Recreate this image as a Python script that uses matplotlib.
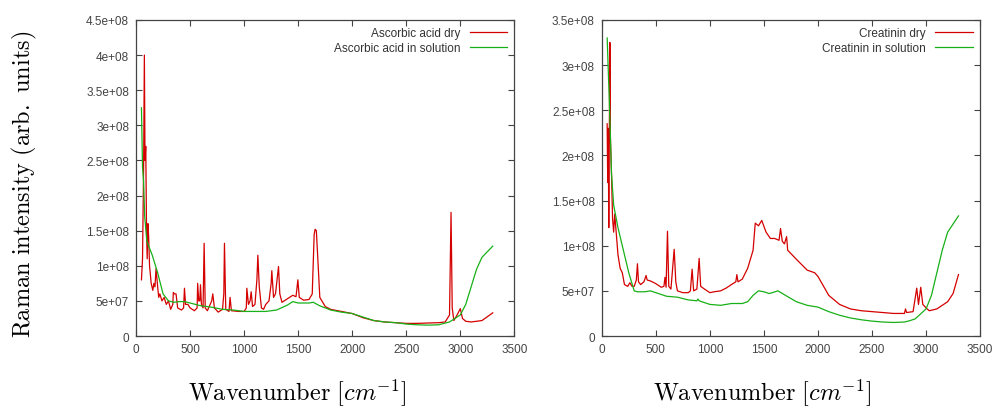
import matplotlib
matplotlib.use("Agg")
import matplotlib.pyplot as plt
from matplotlib.ticker import FuncFormatter

# Ascorbic acid, dry (red)
asc_dry_x = [50, 60, 70, 77, 83, 90, 97, 103, 110, 117, 125, 140, 155, 165, 175, 185, 200,
             210, 220, 240, 260, 280, 300, 320, 340, 345, 355, 370, 385, 420, 440, 448, 458,
             480, 500, 540, 565, 570, 580, 590, 596, 605, 620, 630, 640, 660, 700, 710, 725,
             760, 800, 812, 818, 830, 860, 870, 882, 950, 1000, 1020, 1025, 1040, 1055, 1065,
             1078, 1100, 1118, 1127, 1140, 1160, 1180, 1200, 1230, 1250, 1256, 1272, 1290,
             1318, 1330, 1350, 1400, 1450, 1480, 1497, 1510, 1550, 1600, 1630, 1648, 1657,
             1668, 1685, 1700, 1750, 1800, 1900, 2000, 2100, 2200, 2300, 2400, 2500, 2600,
             2700, 2800, 2860, 2900, 2914, 2925, 2940, 2970, 3000, 3020, 3050, 3100, 3200,
             3300]
asc_dry_y = [0.8, 1.1, 2.4, 4.0, 2.5, 2.7, 1.5, 1.1, 1.6, 1.4, 1.0, 0.75, 0.65, 0.75, 0.7,
             0.96, 0.7, 0.55, 0.6, 0.5, 0.55, 0.45, 0.5, 0.38, 0.45, 0.62, 0.6, 0.6, 0.4,
             0.37, 0.4, 0.68, 0.45, 0.45, 0.4, 0.36, 0.4, 0.75, 0.5, 0.5, 0.73, 0.45, 0.4,
             1.32, 0.4, 0.36, 0.5, 0.6, 0.4, 0.34, 0.38, 0.6, 1.32, 0.38, 0.35, 0.55, 0.36,
             0.35, 0.35, 0.4, 0.68, 0.45, 0.5, 0.63, 0.42, 0.45, 0.8, 1.15, 0.7, 0.4, 0.38,
             0.45, 0.5, 0.75, 0.93, 0.55, 0.6, 0.99, 0.6, 0.48, 0.53, 0.58, 0.56, 0.8, 0.55,
             0.51, 0.52, 0.6, 1.45, 1.52, 1.5, 1.0, 0.55, 0.42, 0.38, 0.35, 0.32, 0.26,
             0.22, 0.2, 0.19, 0.18, 0.18, 0.185, 0.19, 0.2, 0.3, 1.76, 0.4, 0.22, 0.3, 0.39,
             0.25, 0.21, 0.2, 0.22, 0.33]

# Ascorbic acid, in solution (green)
asc_sol_x = [50, 60, 70, 80, 100, 150, 200, 250, 300, 350, 400, 450, 500, 600, 700, 800,
             900, 1000, 1100, 1200, 1300, 1400, 1450, 1500, 1600, 1640, 1700, 1800, 1900,
             2000, 2100, 2200, 2300, 2400, 2500, 2600, 2700, 2800, 2900, 3000, 3050, 3100,
             3150, 3200, 3250, 3300]
asc_sol_y = [3.25, 2.4, 2.2, 1.7, 1.35, 1.15, 0.9, 0.6, 0.5, 0.48, 0.49, 0.49, 0.47, 0.43,
             0.41, 0.38, 0.37, 0.35, 0.35, 0.35, 0.37, 0.44, 0.49, 0.47, 0.47, 0.48, 0.43,
             0.37, 0.34, 0.32, 0.27, 0.22, 0.2, 0.19, 0.17, 0.16, 0.155, 0.16, 0.2, 0.3,
             0.45, 0.7, 0.95, 1.12, 1.2, 1.28]

# Creatinin, dry (red)
cre_dry_x = [50, 55, 60, 65, 75, 80, 90, 100, 110, 120, 130, 150, 170, 190, 210, 240, 260,
             280, 300, 320, 330, 340, 360, 390, 410, 420, 450, 500, 550, 575, 585, 595, 608,
             620, 640, 670, 685, 700, 750, 800, 820, 836, 850, 880, 901, 915, 950, 1000,
             1040, 1100, 1150, 1200, 1240, 1250, 1260, 1300, 1350, 1400, 1420, 1450, 1480,
             1520, 1560, 1600, 1640, 1654, 1670, 1690, 1710, 1720, 1800, 1900, 1970, 2000,
             2100, 2200, 2300, 2400, 2500, 2600, 2700, 2800, 2810, 2820, 2880, 2914, 2930,
             2951, 2970, 3010, 3030, 3100, 3150, 3200, 3250, 3300]
cre_dry_y = [2.35, 1.7, 2.3, 1.2, 3.25, 2.2, 1.8, 1.3, 1.15, 1.35, 1.2, 0.9, 0.75, 0.7,
             0.57, 0.55, 0.59, 0.55, 0.55, 0.62, 0.8, 0.6, 0.57, 0.6, 0.67, 0.62, 0.61,
             0.58, 0.54, 0.55, 0.65, 0.54, 1.16, 0.55, 0.52, 0.96, 0.6, 0.5, 0.48, 0.48,
             0.5, 0.74, 0.5, 0.52, 0.86, 0.55, 0.52, 0.48, 0.49, 0.5, 0.53, 0.57, 0.6, 0.68,
             0.6, 0.63, 0.75, 0.95, 1.25, 1.22, 1.28, 1.15, 1.08, 1.08, 1.06, 1.19, 1.05,
             1.02, 1.1, 0.95, 0.85, 0.73, 0.7, 0.66, 0.45, 0.35, 0.3, 0.28, 0.27, 0.26,
             0.25, 0.25, 0.3, 0.26, 0.27, 0.53, 0.35, 0.54, 0.35, 0.3, 0.28, 0.3, 0.34, 0.38,
             0.47, 0.68]

# Creatinin, in solution (green)
cre_sol_x = [50, 70, 90, 110, 150, 200, 250, 300, 330, 400, 450, 500, 600, 700, 800, 880,
             890, 900, 1000, 1100, 1200, 1300, 1350, 1400, 1450, 1500, 1550, 1630, 1700,
             1800, 1900, 2000, 2100, 2200, 2300, 2400, 2500, 2600, 2700, 2800, 2850, 2900,
             3000, 3050, 3100, 3150, 3200, 3250, 3300]
cre_sol_y = [3.3, 2.6, 1.8, 1.45, 1.2, 0.95, 0.7, 0.5, 0.49, 0.49, 0.5, 0.48, 0.44, 0.43,
             0.4, 0.39, 0.41, 0.39, 0.35, 0.34, 0.36, 0.36, 0.38, 0.45, 0.5, 0.49, 0.47,
             0.5, 0.45, 0.38, 0.34, 0.32, 0.27, 0.23, 0.2, 0.18, 0.165, 0.155, 0.15, 0.155,
             0.17, 0.19, 0.3, 0.45, 0.7, 0.95, 1.15, 1.24, 1.33]

panels = [
    (asc_dry_x, asc_dry_y, asc_sol_x, asc_sol_y,
     "Ascorbic acid dry", "Ascorbic acid in solution", 4.5e8),
    (cre_dry_x, cre_dry_y, cre_sol_x, cre_sol_y,
     "Creatinin dry", "Creatinin in solution", 3.5e8),
]

plt.rcParams["mathtext.fontset"] = "cm"
plt.rcParams["font.family"] = ["Liberation Sans", "DejaVu Sans"]

RED = "#d40000"
GREEN = "#18b018"
GREY = "#444444"


def fmt(v, pos):
    # etichette in stile gnuplot: 0, 5e+07, 1e+08, 1.5e+08 ...
    if v == 0:
        return "0"
    s = "%.1e" % v
    mant, exp = s.split("e")
    if mant.endswith(".0"):
        mant = mant[:-2]
    return mant + "e" + exp


fig = plt.figure(figsize=(9.93, 4.10), dpi=100)
boxes = [[0.137, 0.178, 0.381, 0.771], [0.606, 0.178, 0.381, 0.771]]

for box, (dx, dy, sx, sy, ldry, lsol, ymax) in zip(boxes, panels):
    ax = fig.add_axes(box)
    ax.plot(dx, [v * 1e8 for v in dy], color=RED, lw=0.9, label=ldry)
    ax.plot(sx, [v * 1e8 for v in sy], color=GREEN, lw=0.9, label=lsol)
    ax.set_xlim(0, 3500)
    ax.set_ylim(0, ymax)
    ax.set_xticks(range(0, 3501, 500))
    ax.set_yticks([i * 5e7 for i in range(int(round(ymax / 5e7)) + 1)])
    ax.yaxis.set_major_formatter(FuncFormatter(fmt))
    ax.tick_params(direction="in", length=4, width=0.8, colors=GREY, labelsize=8.5,
                   top=True, right=True, pad=5)
    for sp in ax.spines.values():
        sp.set_color(GREY)
        sp.set_linewidth(0.9)
    ax.set_xlabel(r"$\mathrm{Wavenumber}\ [cm^{-1}]$", fontsize=17.5)
    ax.xaxis.set_label_coords(0.425, -0.128)
    leg = ax.legend(loc="upper right", frameon=False, markerfirst=False, fontsize=8.5,
                    handlelength=3.2, handletextpad=0.8, borderaxespad=0.2,
                    labelspacing=0.25)
    for t in leg.get_texts():
        t.set_color("#333333")

fig.text(0.025, 0.55, r"$\mathrm{Raman\ intensity\ (arb.\ units)}$", rotation=90,
         fontsize=17.5, ha="center", va="center")

fig.savefig("out.png", dpi=100)
